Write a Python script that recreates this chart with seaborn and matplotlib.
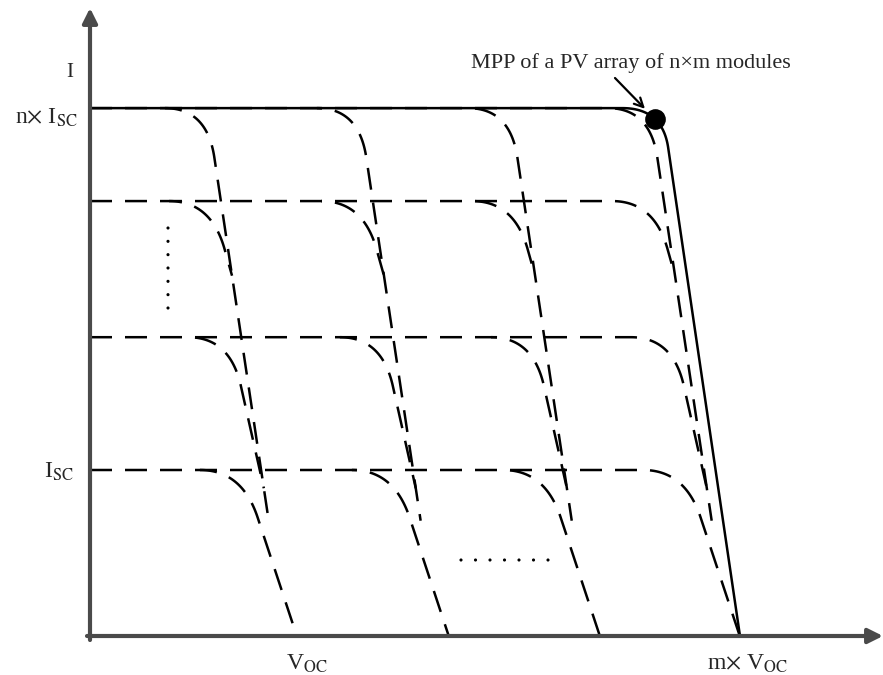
import numpy as np
import pandas as pd
import matplotlib
matplotlib.use("Agg")
import matplotlib.pyplot as plt
import seaborn as sns

# ---------------- data read from the schematic ----------------
# x: voltage (1.0 = one module's Voc), y: current (1.0 = one module's Isc)
voc_positions = [1.00, 1.734, 2.464, 3.140]   # Voc, 2Voc ... m x Voc (series modules)
isc_levels = [1.00, 1.80, 2.62, 3.18]         # Isc, 2Isc ... n x Isc (parallel strings)
array_isc = 3.18                              # n x Isc of whole array
array_voc = 3.140                             # m x Voc of whole array

# knee of each module curve: distance of the corner left of its Voc,
# and slope dV/dI of the falling branch (per row of isc_levels)
knee_offsets = [0.266, 0.324, 0.415, 0.435]
descent_slopes = [0.265, 0.180, 0.225, 0.120]
array_knee_offset = 0.375

# labels
y_label = "I"
nisc_label = r"n$\times$ I$_{\mathrm{SC}}$"
isc_label = r"I$_{\mathrm{SC}}$"
voc_label = r"V$_{\mathrm{OC}}$"
mvoc_label = r"m$\times$ V$_{\mathrm{OC}}$"
mpp_label = "MPP of a PV array of n\u00d7m modules"

# ---------------- layout helpers (pixel <-> data) ----------------
DPI = 100
PX_X0, SX = 90.0, 207.0
PX_Y0, SY = 636.0, 166.0
def vx(px):
    return (px - PX_X0) / SX
def iy(py):
    return (PX_Y0 - py) / SY

FILLET_FLAT = 42.0   # px
FILLET_LINE = 50.0   # px
TOP_MERGE_GAP = 10.0 # px: top branch stops this close to the lowest branch
DASH_LW = 1.8
DASH = (8.8, 5.2)

def bezier(p0, c, p2, n=80):
    t = np.linspace(0, 1, n)[:, None]
    return (1 - t) ** 2 * p0 + 2 * (1 - t) * t * c + t ** 2 * p2

def knee_curve(corner_v, level, slope, end_level, x_start=0.0,
               t_flat=FILLET_FLAT, t_line=FILLET_LINE):
    """flat line at `level` (from x_start px), rounded corner, straight falling
    branch down to end_level. Geometry in pixel-equivalent units."""
    xc, hc = corner_v * SX, level * SY
    k = slope * SX / SY
    d = np.array([k, -1.0]) / np.hypot(k, 1.0)
    C = np.array([xc, hc])
    P0 = C - np.array([t_flat, 0.0])
    P2 = C + t_line * d
    he = end_level * SY
    pe = np.array([xc + k * (hc - he), he])
    pts = np.vstack([[x_start, hc], bezier(P0, C, P2), pe])
    return pts[:, 0] / SX, pts[:, 1] / SY, P0[0]

def meet_level(ca, la, sa, cb, lb, sb, gap_px=0.0):
    """current level where falling branch a comes within gap_px (horizontally,
    a right of b) of falling branch b; gap 0 = crossing."""
    ka, kb = sa * SX / SY, sb * SX / SY
    A = ca * SX + ka * la * SY - cb * SX - kb * lb * SY
    return (A - gap_px) / (ka - kb) / SY

# ---------------- build curve table ----------------
records = []
cid = 0
top = len(isc_levels) - 1
for r, ir in enumerate(isc_levels):
    x_start = 0.0
    for vj in voc_positions:
        corners = [vj - o for o in knee_offsets]
        if r == 0:
            end = 0.0
        elif r < top:
            end = meet_level(corners[r], ir, descent_slopes[r],
                             corners[top], isc_levels[top], descent_slopes[top])
        else:
            end = meet_level(corners[r], ir, descent_slopes[r],
                             corners[0], isc_levels[0], descent_slopes[0],
                             gap_px=TOP_MERGE_GAP)
        end = min(max(end, 0.0), ir)
        V, I, p0x = knee_curve(corners[r], ir, descent_slopes[r], end, x_start=x_start)
        records.append(pd.DataFrame({"V": V, "I": I, "curve": cid, "start_px": x_start}))
        x_start = p0x          # next column only draws the flat beyond this knee
        cid += 1
df = pd.concat(records, ignore_index=True)

array_slope = array_knee_offset / array_isc
Va, Ia, _ = knee_curve(array_voc - array_knee_offset, array_isc, array_slope, 0.0,
                       t_flat=40.0, t_line=40.0)
df_arr = pd.DataFrame({"V": Va, "I": Ia})
k = int(np.argmax(Va * Ia))
mpp = pd.DataFrame({"V": [Va[k]], "I": [Ia[k]]})

# ---------------- plot ----------------
sns.set_theme(style="white")
plt.rcParams["font.family"] = ["Liberation Serif", "DejaVu Serif"]
plt.rcParams["mathtext.fontset"] = "stix"

fig = plt.figure(figsize=(8.83, 6.75), dpi=DPI)
ax = fig.add_axes([0, 0, 1, 1])
ax.set_xlim(vx(0), vx(883))
ax.set_ylim(iy(675), iy(0))
ax.axis("off")

axis_col = "#4a4a4a"
ax.annotate("", xy=(0, iy(8)), xytext=(0, iy(640)),
            arrowprops=dict(arrowstyle="-|>", lw=3, color=axis_col,
                            mutation_scale=22, shrinkA=0, shrinkB=0))
ax.annotate("", xy=(vx(883), 0), xytext=(vx(87), 0),
            arrowprops=dict(arrowstyle="-|>", lw=3, color=axis_col,
                            mutation_scale=22, shrinkA=0, shrinkB=0))

# module curves: dash phase continued so shared flat parts line up seamlessly
for c, sub in df.groupby("curve"):
    offset = sub["start_px"].iloc[0] * 72.0 / DPI / DASH_LW
    sns.lineplot(data=sub, x="V", y="I", estimator=None, sort=False,
                 color="black", lw=DASH_LW, linestyle=(offset, DASH),
                 ax=ax, legend=False)

sns.lineplot(data=df_arr, x="V", y="I", estimator=None, sort=False,
             color="black", lw=1.8, ax=ax, legend=False)
sns.scatterplot(data=mpp, x="V", y="I", s=190, color="black", edgecolor="black",
                ax=ax, legend=False, zorder=5)

# ellipsis dots
dots_v = pd.DataFrame({"V": np.full(7, vx(168)), "I": np.linspace(iy(228), iy(308), 7)})
dots_h = pd.DataFrame({"V": np.linspace(vx(461), vx(548), 7), "I": np.full(7, iy(560))})
for d in (dots_v, dots_h):
    sns.scatterplot(data=d, x="V", y="I", s=5, color="black", edgecolor="none",
                    ax=ax, legend=False)

ax.annotate("", xy=(mpp["V"][0], mpp["I"][0]), xytext=(vx(615), iy(78)),
            arrowprops=dict(arrowstyle="->", lw=1.6, color="black",
                            shrinkA=0, shrinkB=10, mutation_scale=16))
ax.text(vx(471), iy(68), mpp_label, fontsize=16, ha="left", va="baseline")

ax.text(vx(70), iy(77), y_label, fontsize=15, ha="center", va="baseline")
ax.text(vx(78), iy(124), nisc_label, fontsize=17, ha="right", va="baseline")
ax.text(vx(74), iy(478), isc_label, fontsize=17, ha="right", va="baseline")
ax.text(vx(307), iy(670), voc_label, fontsize=17, ha="center", va="baseline")
ax.text(vx(748), iy(670), mvoc_label, fontsize=17, ha="center", va="baseline")

fig.savefig("out.png", dpi=DPI)
